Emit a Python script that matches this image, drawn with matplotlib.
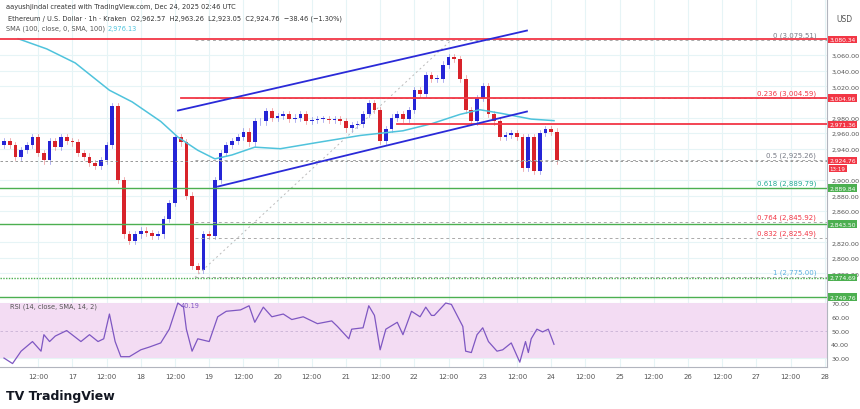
import matplotlib
matplotlib.use('Agg')
import matplotlib.pyplot as plt
import numpy as np

# 2-hour closes from Dec 16 00:00
closes = [2950, 2945, 2930, 2938, 2945, 2955, 2935, 2925, 2950, 2942, 2955, 2950,
          2948, 2935, 2930, 2922, 2918, 2925, 2945, 2995, 2900, 2830, 2822, 2830,
          2835, 2832, 2828, 2830, 2850, 2870, 2955, 2948, 2880, 2790, 2785, 2830,
          2828, 2900, 2935, 2945, 2950, 2955, 2962, 2948, 2975, 2975, 2988, 2980,
          2982, 2985, 2978, 2980, 2984, 2976, 2977, 2978, 2978, 2977, 2978, 2976,
          2966, 2970, 2972, 2985, 2998, 2990, 2950, 2965, 2980, 2985, 2978, 2990,
          3015, 3010, 3035, 3030, 3030, 3048, 3058, 3055, 3030, 2990, 2975, 3005,
          3020, 2985, 2975, 2955, 2958, 2960, 2955, 2915, 2955, 2912, 2960, 2965,
          2962, 2925]
first_open = 2945

sma_hours = [5, 15, 25, 37, 45, 55, 61, 68, 74, 80, 88, 97, 110, 125, 140, 150, 160,
             167, 175, 185, 193]
sma_vals = [3081, 3068, 3050, 3015, 3000, 2975, 2955, 2938, 2927, 2932, 2942, 2940,
            2948, 2957, 2963, 2972, 2984, 2990, 2985, 2978, 2976]

rsi_hours = [0, 3, 6, 10, 13, 14, 16, 18, 22, 27, 30, 33, 35, 37, 39, 41, 44, 48, 51, 55,
             58, 61, 63, 64, 66, 68, 72, 75, 78, 83, 86, 88, 91, 94, 98, 101, 105, 110,
             115, 117, 121, 122, 126, 128, 130, 132, 134, 138, 140, 143, 146, 148, 150,
             151, 155, 157, 161, 162, 164, 166, 168, 170, 173, 175, 178, 181, 183, 184,
             185, 187, 189, 191, 193]
rsi_vals = [30, 26, 35, 42, 35, 47, 42, 46, 50, 42, 47, 42, 44, 62, 42, 31, 31, 36, 38, 41,
            51, 70, 67, 51, 35, 44, 42, 60, 64, 65, 68, 56, 67, 60, 62, 58, 60, 55,
            57, 53, 44, 51, 52, 68, 61, 36, 51, 56, 47, 64, 60, 67, 61,
            61, 70, 69, 53, 35, 34, 47, 52, 42, 35, 36, 41, 27, 42, 34,
            44, 51, 49, 51, 40]

fib_levels = ['0', '0.236', '0.5', '0.618', '0.764', '0.832', '1']
fib_prices = [3079.51, 3004.59, 2925.26, 2889.79, 2845.92, 2825.49, 2775.00]
fib_colors = ['#787b86', '#f23645', '#787b86', '#22ab94', '#f23645', '#f23645', '#5fb0e0']

red_levels = [3080.34, 3004.96, 2971.36]
red_start = [-2, 62, 138]
green_levels = [2889.84, 2843.50, 2774.69, 2749.76]

day_labels = ['12:00', '17', '12:00', '18', '12:00', '19', '12:00', '20', '12:00', '21',
              '12:00', '22', '12:00', '23', '12:00', '24', '12:00', '25', '12:00', '26',
              '12:00', '27', '12:00', '28']

W, H = 860, 410
fig = plt.figure(figsize=(8.6, 4.1), dpi=100)
fig.patch.set_facecolor('white')
ax = fig.add_axes([0, 1 - 301 / H, 827 / W, 301 / H])
rax = fig.add_axes([0, 1 - 368 / H, 827 / W, 67 / H], sharex=ax)

xmin, xmax = -1.4, 288.8
grid_c = '#e6f4f6'
for a in (ax, rax):
    a.set_xlim(xmin, xmax)
    for s in ['top', 'left']:
        a.spines[s].set_visible(False)
    a.spines['right'].set_color('#b2b5be')
    a.spines['bottom'].set_color('#b2b5be')
    a.set_xticks(np.arange(12, 289, 12))
    a.grid(True, color=grid_c, lw=0.8)
    a.set_axisbelow(True)
    a.yaxis.tick_right()
    a.tick_params(axis='y', length=0, labelsize=4.6, colors='#555', pad=3)
    a.tick_params(axis='x', length=0)

ax.set_ylim(2746, 3132)
yt = [v for v in range(2780, 3061, 20) if v not in (3000, 2920, 2840)]
ax.set_yticks(yt)
ax.set_yticklabels([f'{v:,.2f}' for v in yt])
ax.tick_params(axis='x', labelbottom=False)

# candles
opens = [first_open] + closes[:-1]
t = np.arange(len(closes)) * 2
for ti, o, c in zip(t, opens, closes):
    col = '#2525d6' if c >= o else '#d8232a'
    ax.plot([ti, ti], [min(o, c) - 4, max(o, c) + 4], color=col, lw=0.5, alpha=0.5)
    ax.bar(ti, max(abs(c - o), 1), bottom=min(o, c), width=1.3, color=col, lw=0)

ax.plot(sma_hours, sma_vals, color='#4fc3dc', lw=1.1)

# fib
for lvl, p, c in zip(fib_levels, fib_prices, fib_colors):
    ax.plot([67, xmax], [p, p], color='#aaaaaa', lw=0.7, ls=(0, (3, 3)))
    ax.text(285, p + 3, f'{lvl} ({p:,.2f})', color=c, fontsize=5, ha='right', va='bottom')
ax.plot([67, 157], [2775, 3079.5], color='#bbbbbb', lw=0.7, ls=(0, (2, 3)))

for p, x0 in zip(red_levels, red_start):
    ax.plot([x0, xmax], [p, p], color='#f23645', lw=1.3)
for p in green_levels:
    ax.plot([xmin, xmax], [p, p], color='#4caf50', lw=1.0,
            ls=(0, (1, 1)) if p == 2774.69 else '-')
ax.axhline(2924.76, color='#888', lw=0.6, ls=(0, (3, 3)))

# channel
def px2p(y):
    return 3080 - (y - 41) / 0.78
def px2h(x):
    return (x - 4) / 2.85
ax.plot([px2h(178), px2h(527)], [px2p(112), px2p(32)], color='#2a2ad8', lw=1.3)
ax.plot([px2h(218), px2h(527)], [px2p(188), px2p(113)], color='#2a2ad8', lw=1.3)

# right boxes
def box(a, y, txt, col):
    a.annotate(txt, xy=(1, y), xycoords=('axes fraction', 'data'), xytext=(1.5, 0),
               textcoords='offset points', fontsize=4.3, color='white', va='center',
               ha='left', bbox=dict(boxstyle='square,pad=0.2', fc=col, ec='none'))
for p in red_levels + [2924.76]:
    box(ax, p, f'{p:,.2f}', '#f23645')
for p in green_levels:
    box(ax, p, f'{p:,.2f}', '#4caf50')
ax.annotate('13:19', xy=(1, 2924.76 - 10), xycoords=('axes fraction', 'data'),
            xytext=(2, 0), textcoords='offset points', fontsize=4, color='white',
            va='center', bbox=dict(boxstyle='square,pad=0.2', fc='#f23645', ec='none'))

# RSI
rax.set_ylim(23.5, 72.2)
rax.axhspan(30, 70, color='#f3dcf3', lw=0)
rax.axhline(50, color='#c9b3d6', lw=0.6, ls=(0, (3, 3)))
rax.plot(rsi_hours, rsi_vals, color='#7e57c2', lw=0.9)
rax.set_yticks([30, 40, 50, 60, 70])
rax.set_yticklabels([f'{v:.2f}' for v in [30, 40, 50, 60, 70]])
rax.set_xticklabels(day_labels)
rax.tick_params(axis='x', labelsize=5, colors='#555', pad=4)
rax.text(2, 70.5, 'RSI (14, close, SMA, 14, 2)', fontsize=4.8, color='#555', va='top')
rax.text(62, 70.5, '40.19', fontsize=4.8, color='#7e57c2', va='top')

# texts
fig.text(6 / W, 1 - 7 / H, 'aayushjindal created with TradingView.com, Dec 24, 2025 02:46 UTC',
         fontsize=4.8, color='#333', va='center')
fig.text(8 / W, 1 - 19 / H,
         'Ethereum / U.S. Dollar · 1h · Kraken  O2,962.57  H2,963.26  L2,923.05  C2,924.76  −38.46 (−1.30%)',
         fontsize=4.8, color='#333', va='center')
fig.text(6 / W, 1 - 29 / H, 'SMA (100, close, 0, SMA, 100)', fontsize=4.8, color='#555', va='center')
fig.text(108 / W, 1 - 29 / H, '2,976.13', fontsize=4.8, color='#4fc3dc', va='center')
fig.text(836 / W, 1 - 20 / H, 'USD', fontsize=5.5, color='#555', va='center')
fig.text(6 / W, 1 - 397 / H, 'TV TradingView', fontsize=9, color='#131722',
         fontweight='bold', va='center')

fig.savefig('out.png', dpi=100)
